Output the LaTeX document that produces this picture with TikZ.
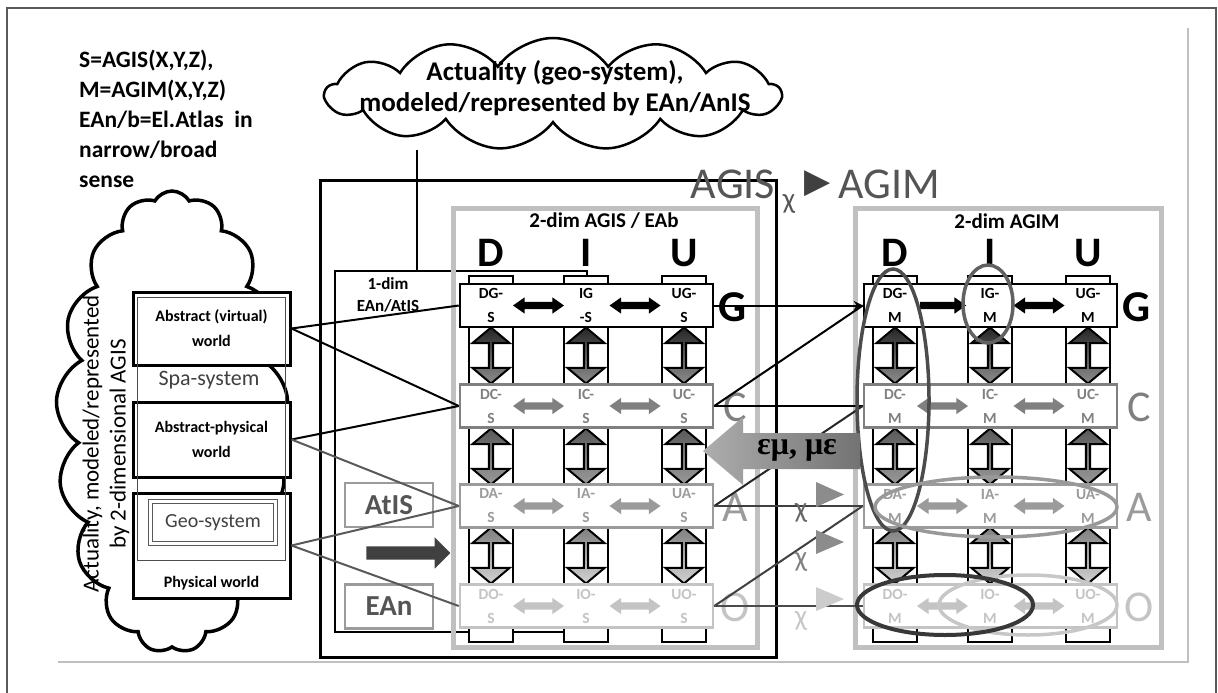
\documentclass[tikz,border=0pt]{standalone}
\usepackage{fontspec}
\setmainfont{Carlito}
\newfontfamily\serifgreek{Liberation Serif}
\newfontfamily\symbfont{DejaVu Sans}
\usetikzlibrary{shapes.arrows,shapes.symbols,shapes.geometric,arrows.meta}

\definecolor{lineC}{HTML}{808080}
\definecolor{lineA}{HTML}{9B9B9B}
\definecolor{lineO}{HTML}{C4C4C4}
\definecolor{darkgray}{HTML}{555555}
\definecolor{framegray}{HTML}{C0C0C0}

\begin{document}
\begin{tikzpicture}[x=1pt,y=-1pt,
  rowbox/.style={draw=#1,fill=white,line width=2.5pt,minimum width=253pt,minimum height=43pt,inner sep=0pt},
  colbox/.style={draw=black,fill=white,line width=2.5pt,minimum width=44pt,minimum height=366pt,inner sep=0pt},
  cell/.style={font=\bfseries\fontsize{15.5}{24}\selectfont,align=center,inner sep=0pt,text=#1},
  hdr/.style={font=\bfseries\fontsize{42}{42}\selectfont,anchor=base,inner sep=0pt},
  rowlabel/.style={font=\fontsize{44}{44}\selectfont,text=#1,anchor=base,inner sep=0pt},
  harrow/.style={double arrow,fill=#1,inner sep=0pt,text height=7pt,text depth=0pt,minimum height=51pt,double arrow head extend=4.5pt,double arrow tip angle=70},
  hsingle/.style={single arrow,fill=#1,inner sep=0pt,text height=7pt,text depth=0pt,minimum height=46pt,single arrow head extend=4.5pt,single arrow tip angle=70},
  varrow/.style 2 args={double arrow,draw=black,line width=2pt,inner sep=0pt,shape border rotate=90,minimum height=56pt,minimum width=37pt,double arrow head extend=8pt,double arrow tip angle=100,top color=#1,bottom color=#2},
  worldbox/.style={draw=black,fill=white,line width=3pt,minimum width=157pt,inner sep=0pt},
  worldtext/.style={font=\bfseries\fontsize{16}{25}\selectfont,align=center,inner sep=0pt},
  grayframe/.style={draw=framegray,line width=5pt,inner sep=0pt},
  tagbox/.style={draw=lineA,line width=2.5pt,minimum width=88pt,minimum height=44pt,inner sep=0pt,text=darkgray,font=\bfseries\fontsize{29}{29}\selectfont},
  conn/.style={line width=2pt,draw=#1},
  chi/.style={font=\fontsize{29}{29}\selectfont,text=#1,inner sep=0pt},
  ring/.style={ellipse,draw=#1,line width=3.5pt,inner sep=0pt}
]
\useasboundingbox (0,0) rectangle (1218,693);

% page frame
\draw[black!65,line width=2pt] (7,700) -- (7,8) -- (1216,8) -- (1216,700);
\draw[framegray,line width=2pt] (58,662) -- (1188,662) -- (1188,28);

% legend
\node[anchor=north west,align=left,inner sep=0pt,font=\bfseries\fontsize{23.5}{30}\selectfont] (legend) at (79,50)
  {S=AGIS(X,Y,Z),\\M=AGIM(X,Y,Z)\\EAn/b=El.Atlas~ in\\narrow/broad\\sense};

% left cloud with the worlds
\node[cloud,draw,line width=3.5pt,cloud puffs=17,cloud puff arc=120,aspect=0.5,minimum width=232pt,minimum height=462pt] (actcloud) at (172,422) {};
\node[rotate=90,align=center,inner sep=0pt,font=\fontsize{23}{27}\selectfont] (acttext) at (106,444) {Actuality, modeled/represented\\by 2-dimensional AGIS};
\node[worldbox,minimum height=73pt] (avbox) at (211.5,328.5) {};
\node[worldbox,minimum height=75pt] (apbox) at (211.5,439.5) {};
\node[worldbox,minimum height=105pt] (pwbox) at (211.5,545.5) {};
\node[draw=black!70,line width=1pt,minimum width=148pt,minimum height=263pt,inner sep=0pt] (spabox) at (211,428.5) {};
\node[worldtext] (avtext) at (211.5,328) {Abstract (virtual)\\world};
\node[worldtext] (aptext) at (211.5,439) {Abstract-physical\\world};
\node[inner sep=0pt,text=black!75,font=\fontsize{22}{22}\selectfont] (spatext) at (209,380) {Spa-system};
\node[draw=black!65,double=white,double distance=3pt,line width=0.8pt,minimum width=125pt,minimum height=42pt,inner sep=0pt,text=black!75,font=\fontsize{20}{20}\selectfont] (geobox) at (213,522.5) {Geo-system};
\node[worldtext] (pwtext) at (211.5,583) {Physical world};

% top cloud
\node[cloud,draw,line width=2.5pt,cloud puffs=13,cloud puff arc=110,aspect=4,minimum width=455pt,minimum height=112pt,inner sep=0pt] (topcloud) at (553,94) {};
\node[align=center,inner sep=0pt,font=\bfseries\fontsize{27}{31}\selectfont] (topcloudtext) at (555,88) {Actuality (geo-system),\\modeled/represented by EAn/AnIS};

% frames
\node[draw=black,line width=3pt,minimum width=456pt,minimum height=477pt,inner sep=0pt] (agisframe) at (548,418.5) {};
\node[draw=black,line width=2.5pt,minimum width=252pt,minimum height=361pt,inner sep=0pt] (onedim) at (461,451.5) {};
\coordinate (cloudfoot) at (417,150);
\draw[line width=2pt] (cloudfoot) -- (cloudfoot |- onedim.north);
\node[align=center,inner sep=0pt,font=\bfseries\fontsize{17}{22}\selectfont] (onedimtext) at (388,295) {1-dim\\EAn/AtIS};
\node[grayframe,minimum width=304pt,minimum height=439pt] (agisbox) at (605,427.5) {};
\node[grayframe,minimum width=306pt,minimum height=439pt] (agimbox) at (1008,427.5) {};
\node[inner sep=0pt,font=\bfseries\fontsize{21}{21}\selectfont] (agistitle) at (604,221) {2-dim AGIS / EAb};
\node[inner sep=0pt,font=\bfseries\fontsize{21}{21}\selectfont] (agimtitle) at (1007,221) {2-dim AGIM};

% columns D, I, U with the arrows between the rows
\foreach \gr/\dx in {S/0,M/404}
  \foreach \cn/\cx in {D/491,I/586,U/684}{
    \node[colbox] (col\gr\cn) at (\cx+\dx,459) {};
    \node[hdr] (hdr\gr\cn) at (\cx+\dx,266) {\cn};
    \node[varrow={black!85}{black!45}] (va\gr\cn1) at (\cx+\dx,355.5) {};
    \node[varrow={black!65}{black!40}] (va\gr\cn2) at (\cx+\dx,456.5) {};
    \node[varrow={black!50}{black!18}] (va\gr\cn3) at (\cx+\dx,555.5) {};
  }

% rows G
\node[rowbox=black] (rowSG) at (586.5,305.5) {};
\node[cell=black] (SDG) at (491,305.5) {DG-\\S};
\node[cell=black] (SIG) at (586,305.5) {IG\\-S};
\node[cell=black] (SUG) at (684,305.5) {UG-\\S};
\node[harrow=black] (haSG1) at (538.5,305.5) {};
\node[harrow=black] (haSG2) at (635,305.5) {};
\node[rowlabel=black,font=\bfseries\fontsize{44}{44}\selectfont] (labSG) at (733,321) {G};
\node[rowbox=black] (rowMG) at (990.5,305.5) {};
\node[cell=black] (MDG) at (895,305.5) {DG-\\M};
\node[cell=black] (MIG) at (990,305.5) {IG-\\M};
\node[cell=black] (MUG) at (1088,305.5) {UG-\\M};
\node[hsingle=black] (haMG1) at (940.5,305.5) {};
\node[harrow=black] (haMG2) at (1039,305.5) {};
\node[rowlabel=black,font=\bfseries\fontsize{44}{44}\selectfont] (labMG) at (1137,321) {G};

% rows C, A, O
\foreach \gr/\dx in {S/0,M/404}
  \foreach \rn/\ry/\rc in {C/406/lineC,A/506/lineA,O/606/lineO}{
    \node[rowbox=\rc] (row\gr\rn) at (586.5+\dx,\ry) {};
    \foreach \cn/\cx in {D/491,I/586,U/684}
      \node[cell=\rc] (\gr\cn\rn) at (\cx+\dx,\ry) {\cn\rn-\\\gr};
    \node[harrow=\rc] (ha\gr\rn1) at (538.5+\dx,\ry) {};
    \node[harrow=\rc] (ha\gr\rn2) at (635+\dx,\ry) {};
    \node[rowlabel=\rc] (lab\gr\rn) at (735+\dx,\ry+15) {\rn};
  }

% AtIS, EAn
\node[tagbox] (atis) at (389,505) {AtIS};
\node[tagbox] (ean) at (389,606.5) {EAn};
\node[single arrow,fill=black!75,inner sep=0pt,text height=13pt,text depth=0pt,minimum height=84pt,single arrow head extend=9pt,single arrow tip angle=90] (darkarrow) at (405,553) {};

% worlds to AGIS rows
\draw[conn=black] (avbox.east) -- (rowSG.west);
\draw[conn=black] (avbox.east) -- (rowSC.west);
\draw[conn=black] (apbox.east) -- (rowSC.west);
\draw[conn=black!65] (apbox.east) -- (rowSA.west);
\draw[conn=black!65] (pwbox.east) -- (rowSA.west);
\draw[conn=black!65] (pwbox.east) -- (rowSO.west);

% AGIS rows to AGIM rows
\draw[conn=black,-{Stealth[length=9pt,width=9pt]}] (rowSG.east) -- (rowMG.west);
\draw[conn=black] (rowSC.east) -- (rowMG.west);
\draw[conn=black] (rowSC.east) -- (rowMC.west);
\draw[conn=black!85] (rowSA.east) -- (rowMC.west);
\draw[conn=black!75] (rowSA.east) -- (rowMA.west);
\draw[conn=black!75] (rowSO.east) -- (rowMA.west);
\draw[conn=black!70] (rowSO.east) -- (rowMO.west);

% rings in AGIM
\node[ring=black!70,minimum width=72pt,minimum height=262pt] (ringD) at (893,400) {};
\node[ring=black!62,minimum width=50pt,minimum height=78pt] (ringIG) at (988,304) {};
\node[ring=black!40,minimum width=242pt,minimum height=60pt] (ringA) at (996,507) {};
\node[ring=black!22,minimum width=178pt,minimum height=60pt] (ringO2) at (1028,605) {};
\node[ring=black!78,line width=4pt,minimum width=176pt,minimum height=60pt] (ringO1) at (945,605) {};

% eps-mu arrow
\shade[left color=black!32,right color=black!55] (703,451) -- (743,417) -- (743,433) -- (860,433) -- (860,469) -- (743,469) -- (743,485) -- cycle;
\node[inner sep=0pt,font=\serifgreek\bfseries\fontsize{32}{32}\selectfont] (emtext) at (797,450) {εμ, με};

% chi marks
\fill[black!45] (816,482) -- (844,494.5) -- (816,507) -- cycle;
\fill[black!45] (816,530) -- (844,542) -- (816,554) -- cycle;
\fill[black!20] (816,587) -- (844,599) -- (816,611) -- cycle;
\node[chi=black!60] (chiA) at (801,513) {χ};
\node[chi=black!50] (chiC) at (801,562) {χ};
\node[chi=black!22] (chiO) at (801,621) {χ};

% title
\node[inner sep=0pt,text=darkgray,font=\fontsize{44}{44}\selectfont] (ttagis) at (733,184) {AGIS};
\node[chi=darkgray] (ttchi) at (789,204) {χ};
\node[inner sep=0pt,text=black!75,font=\symbfont\fontsize{34}{34}\selectfont] (ttarrow) at (818,184) {▶};
\node[inner sep=0pt,text=darkgray,font=\fontsize{44}{44}\selectfont] (ttagim) at (889,184) {AGIM};
\end{tikzpicture}
\end{document}
